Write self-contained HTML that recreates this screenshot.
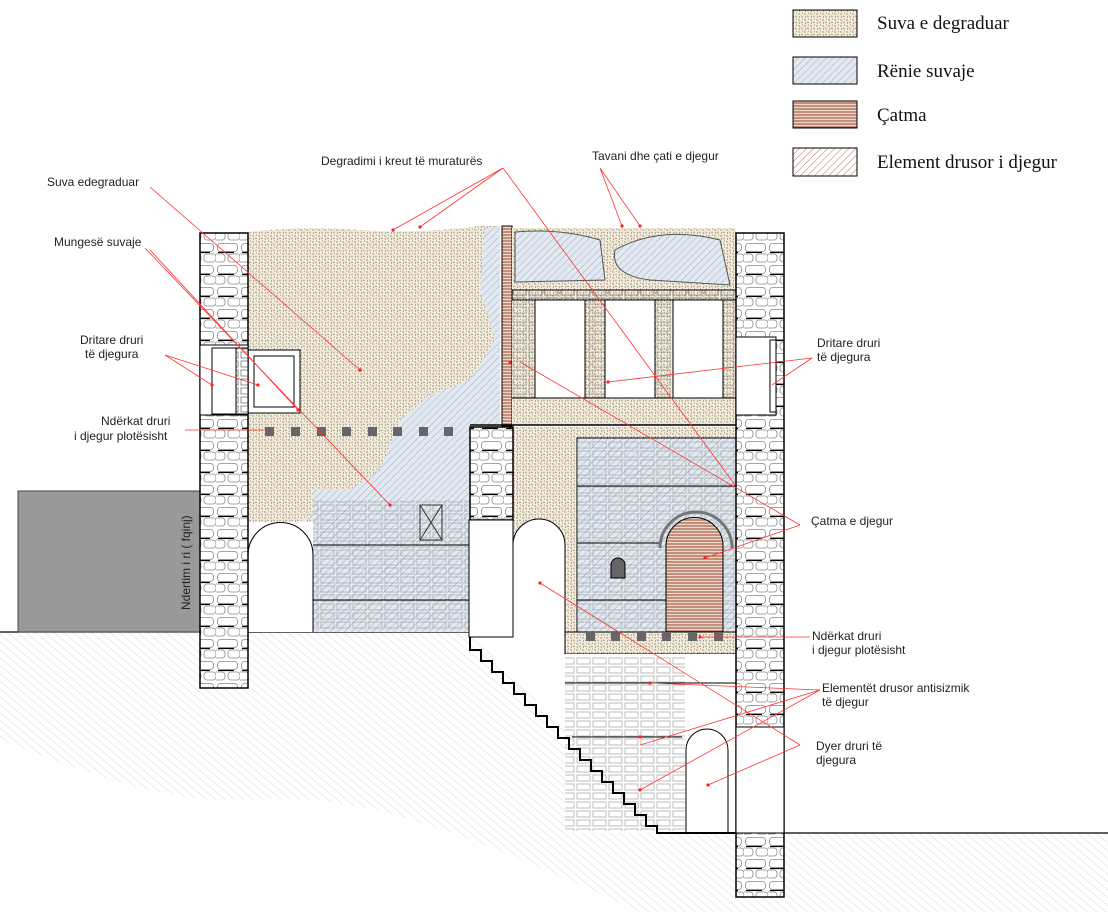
<!DOCTYPE html>
<html><head><meta charset="utf-8"><style>
html,body{margin:0;padding:0;background:#fff}
svg{display:block}
text{font-family:"Liberation Sans",sans-serif;font-size:12px;fill:#222}
.lg{font-family:"Liberation Serif",serif;font-size:19px;fill:#111}
</style></head><body>
<svg width="1108" height="912" viewBox="0 0 1108 912" xmlns="http://www.w3.org/2000/svg">
<defs>
<pattern id="st" width="6" height="6" patternUnits="userSpaceOnUse">
<rect width="6" height="6" fill="#f3ede0"/>
<circle cx="1" cy="2" r=".7" fill="#8c7a58"/><circle cx="4" cy="4.5" r=".7" fill="#9a8462"/><circle cx="4.5" cy="1" r=".6" fill="#a8967a"/><circle cx="1.5" cy="5" r=".6" fill="#7e6c50"/><circle cx="3" cy="3" r=".4" fill="#b09a7a"/>
</pattern>
<pattern id="bl" width="5" height="5" patternUnits="userSpaceOnUse" patternTransform="rotate(45)">
<rect width="5" height="5" fill="#e2e9f0"/><line x1="0" y1="0" x2="0" y2="5" stroke="#8a9eb3" stroke-width=".8"/>
</pattern>
<pattern id="rs" width="4" height="3" patternUnits="userSpaceOnUse">
<rect width="4" height="3" fill="#e8d8cc"/><line x1="0" y1="1" x2="4" y2="1" stroke="#a0432d" stroke-width="1"/>
</pattern>
<pattern id="rh" width="5" height="5" patternUnits="userSpaceOnUse" patternTransform="rotate(45)">
<rect width="5" height="5" fill="#fff"/><line x1="0" y1="0" x2="0" y2="5" stroke="#b24a3a" stroke-width=".8"/>
</pattern>
<pattern id="gr" width="6" height="6" patternUnits="userSpaceOnUse" patternTransform="rotate(-50)">
<rect width="6" height="6" fill="#fff"/><line x1="0" y1="0" x2="0" y2="6" stroke="#c8c8c8" stroke-width=".7"/>
</pattern>
<pattern id="stone" width="24" height="22" patternUnits="userSpaceOnUse">
<rect width="24" height="22" fill="#fff"/>
<rect x="1.5" y="1.5" width="20" height="8" rx="3" fill="none" stroke="#888" stroke-width=".8"/>
<rect x="-9" y="12" width="18" height="8" rx="3" fill="none" stroke="#888" stroke-width=".8"/>
<rect x="12" y="12" width="12" height="8" rx="3" fill="none" stroke="#888" stroke-width=".8"/>
<line x1="2" y1="10.5" x2="18" y2="10.5" stroke="#000" stroke-width="1.2"/>
</pattern>
<pattern id="brick" width="16" height="9" patternUnits="userSpaceOnUse">
<rect x="1" y="1" width="13" height="6" fill="none" stroke="#777" stroke-width=".8"/>
</pattern>
</defs>

<path d="M0 632 L470 632 L665 833 L1108 833 L1108 912 L640 912 C500 850 380 790 250 800 C150 805 60 760 0 740 Z" fill="url(#gr)"/>
<line x1="0" y1="632" x2="470" y2="632" stroke="#000" stroke-width="1.2"/>
<line x1="784" y1="833" x2="1108" y2="833" stroke="#000" stroke-width="1.2"/>

<rect x="18" y="491" width="182" height="141" fill="#999" stroke="#444"/>
<text transform="translate(190,610) rotate(-90)" font-size="11">Ndertim i ri ( fqinj)</text>

<path d="M248 232 Q300 226 360 230 T480 226 L500 226 L500 520 L248 522 Z" fill="url(#st)"/>
<path d="M485 228 L500 226 L500 425 L470 425 L470 490 L350 490 L330 515 L300 522 L380 470 L400 420 L430 395 L470 380 L495 340 L480 290 Z" fill="url(#bl)"/>
<rect x="313" y="490" width="157" height="142" fill="url(#bl)"/>
<rect x="313" y="500" width="157" height="130" fill="url(#brick)" opacity=".5"/>
<line x1="313" y1="545" x2="470" y2="545" stroke="#000"/><line x1="313" y1="600" x2="470" y2="600" stroke="#000"/>
<rect x="420" y="505" width="22" height="35" fill="none" stroke="#333"/><path d="M420 505 L442 540 M442 505 L420 540" stroke="#333"/>
<path d="M248 632 L248 555 A32.5 32.5 0 0 1 313 555 L313 632" fill="#fff" stroke="#000"/>
<rect x="248" y="350" width="52" height="63" fill="#fff" stroke="#000"/>
<rect x="254" y="356" width="40" height="51" fill="none" stroke="#000"/>
<g fill="#666"><rect x="265" y="427" width="9" height="9"/><rect x="291" y="427" width="9" height="9"/><rect x="317" y="427" width="9" height="9"/><rect x="342" y="427" width="9" height="9"/><rect x="368" y="427" width="9" height="9"/><rect x="393" y="427" width="9" height="9"/><rect x="419" y="427" width="9" height="9"/><rect x="444" y="427" width="9" height="9"/></g>

<rect x="502" y="226" width="10" height="200" fill="url(#rs)" stroke="#000"/>

<rect x="512" y="228" width="224" height="197" fill="url(#st)"/>
<path d="M515 232 Q560 228 600 240 L605 280 L515 282 Z" fill="url(#bl)" stroke="#555"/>
<path d="M615 250 Q660 225 720 240 L730 285 L650 280 Q610 275 615 250 Z" fill="url(#bl)" stroke="#555"/>
<rect x="512" y="290" width="224" height="10" fill="url(#brick)" stroke="#000"/>
<rect x="512" y="300" width="224" height="98" fill="url(#brick)" opacity=".6"/>
<rect x="535" y="300" width="50" height="98" fill="#fff" stroke="#000"/>
<rect x="605" y="300" width="50" height="98" fill="#fff" stroke="#000"/>
<rect x="673" y="300" width="50" height="98" fill="#fff" stroke="#000"/>
<line x1="512" y1="398" x2="736" y2="398" stroke="#000"/>
<line x1="470" y1="425" x2="736" y2="425" stroke="#000" stroke-width="1.5"/>

<rect x="512" y="427" width="224" height="205" fill="url(#st)"/>
<rect x="470" y="427" width="43" height="93" fill="url(#stone)" stroke="#000" stroke-width="1.5"/>
<rect x="469" y="520" width="44" height="117" fill="#fff" stroke="#000"/>
<path d="M513 637 L513 545 A26 26 0 0 1 565 545 L565 637" fill="#fff" stroke="#000"/>
<rect x="577" y="438" width="159" height="194" fill="url(#bl)" stroke="#000"/>
<rect x="577" y="440" width="159" height="190" fill="url(#brick)" opacity=".5"/>
<line x1="577" y1="486" x2="736" y2="486" stroke="#000"/><line x1="577" y1="543" x2="660" y2="543" stroke="#000"/><line x1="577" y1="600" x2="666" y2="600" stroke="#000"/>
<path d="M660 548 A36 36 0 0 1 732 548" fill="none" stroke="#777" stroke-width="3"/>
<path d="M666 632 L666 546 A28.5 28.5 0 0 1 723 546 L723 632 Z" fill="url(#rs)" stroke="#000"/>
<path d="M611 578 L611 565 A7 7 0 0 1 625 565 L625 578 Z" fill="#666" stroke="#000"/>
<rect x="565" y="632" width="171" height="22" fill="url(#st)" stroke="#000"/>
<g fill="#666"><rect x="586" y="632" width="9" height="9"/><rect x="611" y="632" width="9" height="9"/><rect x="637" y="632" width="9" height="9"/><rect x="662" y="632" width="9" height="9"/><rect x="688" y="632" width="9" height="9"/><rect x="714" y="632" width="9" height="9"/></g>
<rect x="565" y="654" width="171" height="179" fill="#fff"/>
<rect x="565" y="656" width="120" height="175" fill="url(#brick)" opacity=".6"/>
<line x1="565" y1="683" x2="736" y2="683" stroke="#000"/>
<line x1="572" y1="737" x2="682" y2="737" stroke="#000"/>
<path d="M686 833 L686 750 A21 21 0 0 1 728 750 L728 833" fill="#fff" stroke="#000"/>
<path d="M470 637 L470 650 L481 650 L481 661 L492 661 L492 672 L503 672 L503 683 L514 683 L514 694 L525 694 L525 705 L536 705 L536 716 L547 716 L547 727 L558 727 L558 738 L569 738 L569 749 L580 749 L580 760 L591 760 L591 771 L602 771 L602 782 L613 782 L613 793 L624 793 L624 804 L635 804 L635 815 L646 815 L646 826 L657 826 L657 833 L736 833" fill="none" stroke="#000" stroke-width="2"/>

<rect x="200" y="233" width="48" height="455" fill="url(#stone)" stroke="#000" stroke-width="1.5"/>
<rect x="200" y="345" width="48" height="70" fill="#fff" stroke="#000"/>
<rect x="212" y="348" width="24" height="66" fill="#fff" stroke="#000"/>
<rect x="236" y="348" width="12" height="66" fill="url(#brick)" stroke="#000"/>
<rect x="736" y="233" width="48" height="664" fill="url(#stone)" stroke="#000" stroke-width="1.5"/>
<rect x="736" y="337" width="40" height="78" fill="#fff" stroke="#000"/>
<rect x="770" y="340" width="6" height="72" fill="none" stroke="#000"/>
<rect x="736" y="727" width="48" height="106" fill="#fff" stroke="#000"/>

<g stroke="#f33" stroke-width=".8" fill="none">
<path d="M150 187 L360 370"/><path d="M150 250 L298 410"/><path d="M145 248 L390 505"/>
<path d="M165 355 L212 385 M165 355 L258 385"/>
<path d="M185 430 L265 430"/>
<path d="M503 168 L393 230 M503 168 L420 227 M503 168 L735 485"/>
<path d="M600 168 L622 226 M600 168 L640 226"/>
<path d="M812 358 L772 385 M812 358 L608 382"/>
<path d="M800 525 L520 362 M800 525 L705 558"/>
<path d="M810 637 L700 637"/>
<path d="M820 690 L650 683 M820 690 L640 745 M820 690 L640 790"/>
<path d="M800 745 L540 583 M800 745 L708 785"/>
</g>
<g fill="#f22"><circle cx="360" cy="370" r="1.6"/><circle cx="298" cy="410" r="1.6"/><circle cx="390" cy="505" r="1.6"/><circle cx="258" cy="385" r="1.6"/><circle cx="212" cy="385" r="1.6"/><circle cx="393" cy="230" r="1.6"/><circle cx="420" cy="227" r="1.6"/><circle cx="622" cy="226" r="1.6"/><circle cx="640" cy="226" r="1.6"/><circle cx="608" cy="382" r="1.6"/><circle cx="510" cy="362" r="1.6"/><circle cx="705" cy="558" r="1.6"/><circle cx="700" cy="637" r="1.6"/><circle cx="650" cy="683" r="1.6"/><circle cx="640" cy="737" r="1.6"/><circle cx="640" cy="790" r="1.6"/><circle cx="540" cy="583" r="1.6"/><circle cx="708" cy="785" r="1.6"/></g>

<text x="47" y="186">Suva edegraduar</text>
<text x="54" y="246">Mungesë suvaje</text>
<text x="80" y="344">Dritare druri</text><text x="85" y="358">të djegura</text>
<text x="101" y="425">Ndërkat druri</text><text x="74" y="440">i djegur plotësisht</text>
<text x="321" y="165">Degradimi i kreut të muraturës</text>
<text x="592" y="160">Tavani dhe çati e djegur</text>
<text x="817" y="347">Dritare druri</text><text x="817" y="361">të djegura</text>
<text x="811" y="525">Çatma e djegur</text>
<text x="812" y="640">Ndërkat druri</text><text x="812" y="654">i djegur plotësisht</text>
<text x="822" y="692">Elementët drusor antisizmik</text><text x="822" y="706">të djegur</text>
<text x="816" y="750">Dyer druri të</text><text x="816" y="764">djegura</text>

<rect x="793" y="10" width="64" height="27" fill="url(#st)" stroke="#000"/>
<rect x="793" y="57" width="64" height="27" fill="url(#bl)" stroke="#000"/>
<rect x="793" y="101" width="64" height="27" fill="url(#rs)" stroke="#000"/>
<rect x="793" y="148" width="64" height="28" fill="url(#rh)" stroke="#000"/>
<text class="lg" x="877" y="29">Suva e degraduar</text>
<text class="lg" x="877" y="77">Rënie suvaje</text>
<text class="lg" x="877" y="121">Çatma</text>
<text class="lg" x="877" y="168">Element drusor i djegur</text>
</svg>
</body></html>
